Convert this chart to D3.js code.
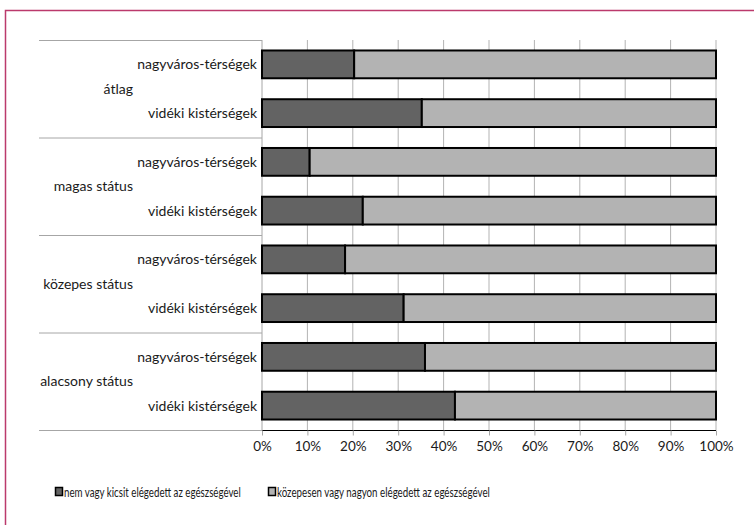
<!DOCTYPE html>
<html>
<head>
<meta charset="utf-8">
<script src="https://d3js.org/d3.v7.min.js"></script>
<style>
    body { margin: 0; background: #fff; }
    text { font-family: Lato, "Open Sans", sans-serif; fill: #1a1a1a; }
</style>
</head>
<body>
<svg width="754" height="525"></svg>
<script>

// data
var groups = ['átlag', 'magas státus', 'közepes státus', 'alacsony státus'];
var areas = ['nagyváros-térségek', 'vidéki kistérségek'];
var notSatisfied = [20.3, 35.2, 10.5, 22.2, 18.3, 31.2, 35.9, 42.5];
var seriesNames = ['nem vagy kicsit elégedett az egészségével', 'közepesen vagy nagyon elégedett az egészségével'];
var tickValues = [0, 10, 20, 30, 40, 50, 60, 70, 80, 90, 100];

var rows = [];
groups.forEach(function(g, gi) {
    areas.forEach(function(a, ai) {
        var v = notSatisfied[gi * 2 + ai];
        rows.push({ key: g + '|' + a, group: g, area: a, dark: v, light: 100 - v });
    });
});

var svg = d3.select('svg');

// outer frame
svg.append('rect')
    .attr('x', 5.5).attr('y', 10.5)
    .attr('width', 760).attr('height', 530)
    .attr('fill', 'none')
    .attr('stroke', '#bb3a6c')
    .attr('stroke-width', 1.5);

var x = d3.scaleLinear().domain([0, 100]).range([262, 716]);
var yg = d3.scaleBand().domain(groups).range([40, 430]);
var y = d3.scaleBand().domain(rows.map(d => d.key)).range([40, 430]).paddingInner(0.43).paddingOuter(0.215);

// grid lines
svg.append('g')
    .selectAll('line')
    .data(tickValues.slice(1))
    .enter()
    .append('line')
    .attr('x1', d => x(d)).attr('x2', d => x(d))
    .attr('y1', 40).attr('y2', 430)
    .attr('stroke', '#b3b3b3')
    .attr('stroke-width', 1);

// left vertical line
svg.append('line')
    .attr('x1', 262).attr('x2', 262)
    .attr('y1', 40).attr('y2', 430)
    .attr('stroke', '#a6a6a6');

// group separators
svg.append('g')
    .selectAll('line')
    .data(groups.concat(['end']))
    .enter()
    .append('line')
    .attr('x1', 39).attr('x2', 262)
    .attr('y1', (d, i) => i < groups.length ? yg(d) + 0.5 : 430.5)
    .attr('y2', (d, i) => i < groups.length ? yg(d) + 0.5 : 430.5)
    .attr('stroke', '#a6a6a6')
    .attr('stroke-width', 1);

// bars
var bar = svg.append('g');
bar.selectAll('rect.dark')
    .data(rows)
    .enter()
    .append('rect')
    .attr('class', 'dark')
    .attr('x', x(0))
    .attr('y', d => y(d.key))
    .attr('width', d => x(d.dark) - x(0))
    .attr('height', y.bandwidth())
    .attr('fill', '#636363')
    .attr('stroke', '#000')
    .attr('stroke-width', 2);

bar.selectAll('rect.light')
    .data(rows)
    .enter()
    .append('rect')
    .attr('class', 'light')
    .attr('x', d => x(d.dark))
    .attr('y', d => y(d.key))
    .attr('width', d => x(100) - x(d.dark))
    .attr('height', y.bandwidth())
    .attr('fill', '#b3b3b3')
    .attr('stroke', '#000')
    .attr('stroke-width', 2);

// bottom axis
var axis = svg.append('g')
    .attr('transform', 'translate(0,430.5)')
    .call(d3.axisBottom(x).tickValues(tickValues).tickSize(5).tickFormat(d => d + '%'));
axis.select('.domain').attr('stroke', '#000').attr('stroke-width', 1.2).attr('d', 'M' + x(0) + ',0H' + x(100));
axis.selectAll('.tick line').attr('stroke', '#a6a6a6');
axis.selectAll('.tick text')
    .attr('y', 11)
    .style('font-family', 'Lato, sans-serif')
    .style('font-size', '13.5px')
    .attr('fill', '#1a1a1a');

// category labels
svg.append('g')
    .selectAll('text')
    .data(rows)
    .enter()
    .append('text')
    .text(d => d.area)
    .attr('x', 257)
    .attr('y', d => y(d.key) + y.bandwidth() / 2)
    .attr('dy', '0.35em')
    .attr('text-anchor', 'end')
    .style('font-size', '14px');

svg.append('g')
    .selectAll('text')
    .data(groups)
    .enter()
    .append('text')
    .text(d => d)
    .attr('x', 133)
    .attr('y', d => yg(d) + yg.bandwidth() / 2)
    .attr('dy', '0.35em')
    .attr('text-anchor', 'end')
    .style('font-size', '14px');

// legend (text is condensed in the original, so squeeze it horizontally)
var legendX = [55, 268];
var legendLen = [177, 213];
var legendFill = ['#636363', '#b3b3b3'];
var legend = svg.append('g')
    .selectAll('g')
    .data(seriesNames)
    .enter()
    .append('g')
    .attr('transform', (d, i) => 'translate(' + legendX[i] + ',492)');
legend.append('rect')
    .attr('x', 0.5).attr('y', -4.5)
    .attr('width', 7).attr('height', 8)
    .attr('fill', (d, i) => legendFill[i])
    .attr('stroke', '#000')
    .attr('stroke-width', 1.5);
legend.append('text')
    .text(d => d)
    .attr('x', 0)
    .attr('y', 0)
    .attr('dy', '0.35em')
    .style('font-size', '13px')
    .attr('transform', function(d, i) {
        var w = this.getComputedTextLength();
        return 'translate(9,0) scale(' + (legendLen[i] / w) + ',1)';
    });

</script>
</body>
</html>
